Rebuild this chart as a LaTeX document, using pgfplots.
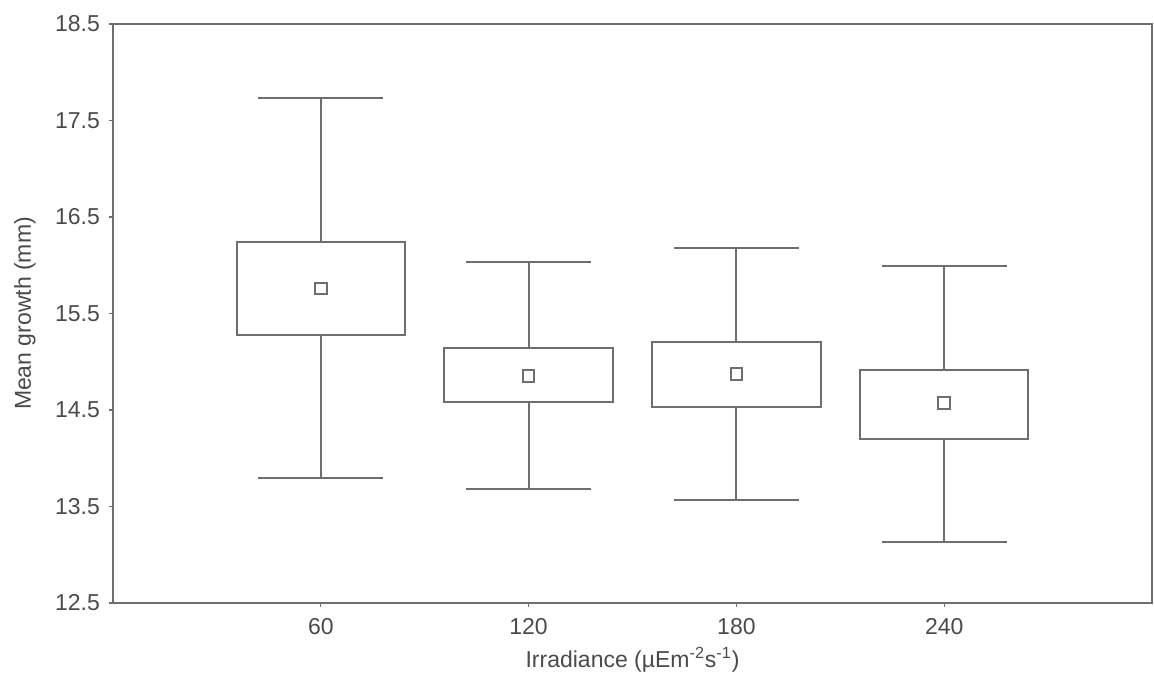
\documentclass[border=0pt]{standalone}
\usepackage{fontspec}
\setmainfont{Liberation Sans}
\usepackage{pgfplots}
\pgfplotsset{compat=1.18}
\definecolor{linecol}{HTML}{6E6E6E}
\definecolor{txtcol}{HTML}{4A4A4A}
\begin{document}
\begin{tikzpicture}
\begin{axis}[
  scale only axis,
  width=519.5pt, height=289.5pt,
  at={(0,0)}, anchor=south west,
  xmin=0, xmax=5, ymin=12.5, ymax=18.5,
  xtick={1,2,3,4}, xticklabels={60,120,180,240},
  ytick={12.5,13.5,14.5,15.5,16.5,17.5,18.5},
  yticklabel style={/pgf/number format/fixed, /pgf/number format/fixed zerofill, /pgf/number format/precision=1},
  /pgf/number format/assume math mode=true,
  tick align=outside, tick pos=left, major tick length=2pt,
  tick style={linecol, line width=0.6pt},
  axis line style={linecol, line width=1pt},
  tick label style={font=\fontsize{11.5}{13}\selectfont, text=txtcol},
  xticklabel style={yshift=-2pt},
  yticklabel style={xshift=-1pt},
  label style={font=\fontsize{11.5}{13}\selectfont, text=txtcol},
  xlabel={Irradiance (µEm\textsuperscript{-2}s\textsuperscript{-1})},
  ylabel={Mean growth (mm)},
  xlabel style={at={(axis description cs:0.5,0)}, anchor=center, yshift=-28.5pt},
  ylabel style={at={(axis description cs:0,0.5)}, anchor=center, yshift=44pt},
  unbounded coords=jump,
  bx/.style={draw=linecol, line width=1pt, mark=none, solid},
]
% boxes (lower quartile, upper quartile)
\addplot[bx] coordinates {(0.595,15.28) (1.405,15.28) (1.405,16.24) (0.595,16.24)} -- cycle;
\addplot[bx] coordinates {(1.595,14.58) (2.405,14.58) (2.405,15.14) (1.595,15.14)} -- cycle;
\addplot[bx] coordinates {(2.595,14.53) (3.405,14.53) (3.405,15.20) (2.595,15.20)} -- cycle;
\addplot[bx] coordinates {(3.595,14.20) (4.405,14.20) (4.405,14.91) (3.595,14.91)} -- cycle;
% whiskers and caps
\addplot[bx] coordinates {(0.7,17.73) (1.3,17.73) (nan,nan) (1,17.73) (1,16.24) (nan,nan)
  (1,15.28) (1,13.80) (nan,nan) (0.7,13.80) (1.3,13.80)};
\addplot[bx] coordinates {(1.7,16.03) (2.3,16.03) (nan,nan) (2,16.03) (2,15.14) (nan,nan)
  (2,14.58) (2,13.68) (nan,nan) (1.7,13.68) (2.3,13.68)};
\addplot[bx] coordinates {(2.7,16.18) (3.3,16.18) (nan,nan) (3,16.18) (3,15.20) (nan,nan)
  (3,14.53) (3,13.57) (nan,nan) (2.7,13.57) (3.3,13.57)};
\addplot[bx] coordinates {(3.7,15.99) (4.3,15.99) (nan,nan) (4,15.99) (4,14.91) (nan,nan)
  (4,14.20) (4,13.13) (nan,nan) (3.7,13.13) (4.3,13.13)};
% means
\addplot[only marks, mark=square, mark size=2.9pt, draw=linecol,
  mark options={line width=1pt, solid}] coordinates {
  (1,15.76) (2,14.85) (3,14.87) (4,14.57)};
\end{axis}
\pgfresetboundingbox
\useasboundingbox (-56.5pt,-41.5pt) rectangle (520.5pt,301.5pt);
\end{tikzpicture}
\end{document}
